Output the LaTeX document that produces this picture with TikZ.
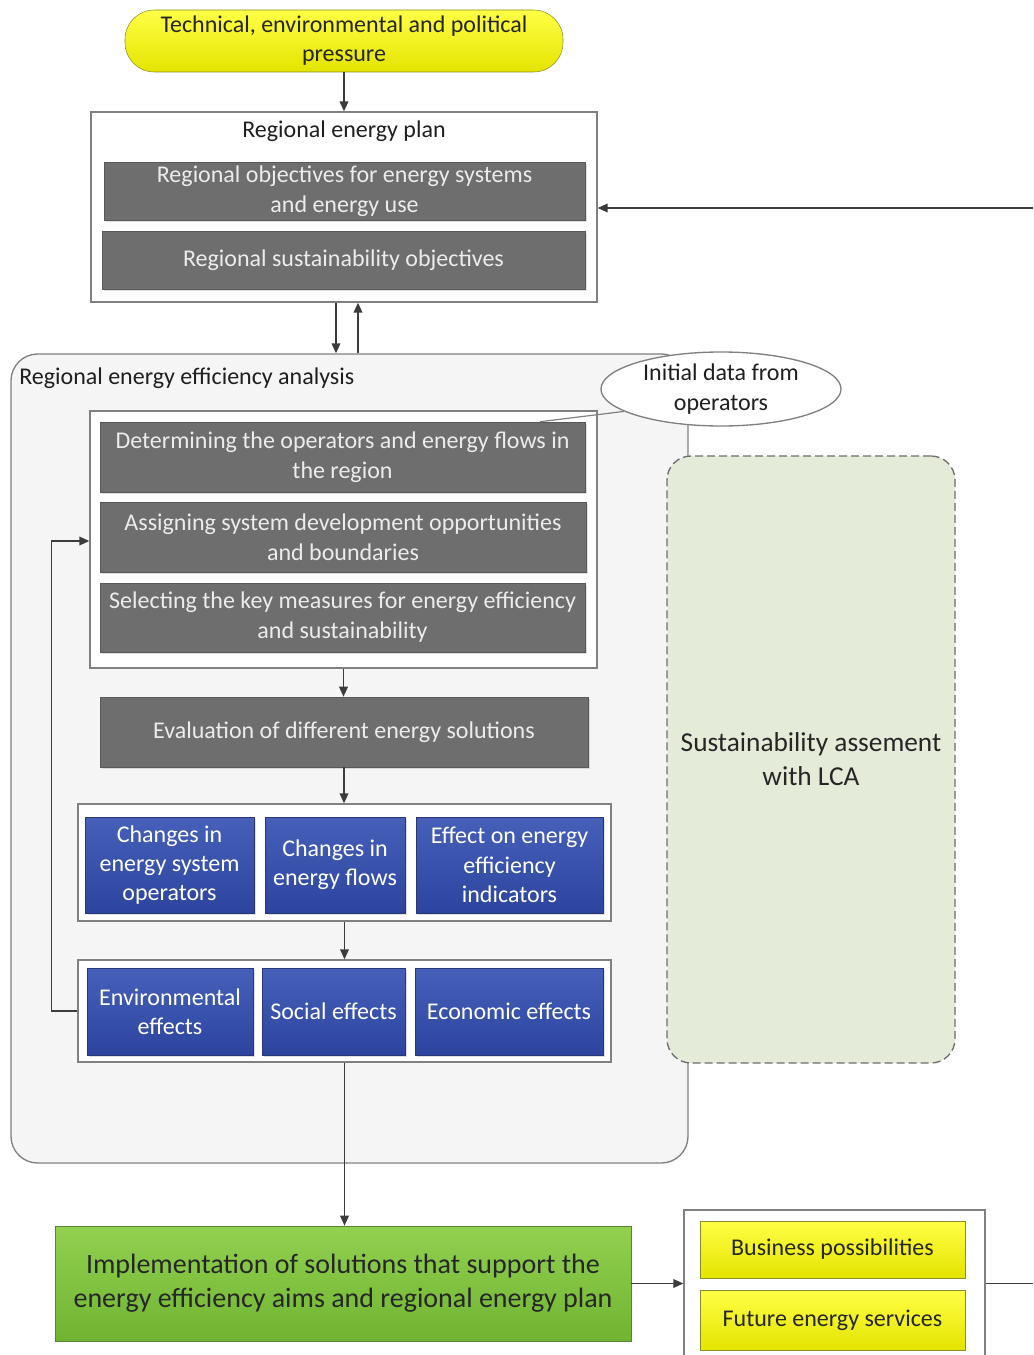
\documentclass[tikz,border=0pt]{standalone}
\usepackage{fontspec}
\setmainfont{Carlito}
\usetikzlibrary{arrows.meta,shapes.geometric,shadows}
\newcommand\fsz[2]{\fontsize{#1}{#2}\selectfont}
% box from its corners (pixel grid): style, name, x1, y1, x2, y2, text
\newcommand\bx[7]{\node[#1, minimum width={(#5-#3)*0.75pt}, minimum height={(#6-#4)*0.75pt}]
  (#2) at ({(#3+#5)/2},{(#4+#6)/2}) {#7};}

\definecolor{linegray}{RGB}{128,128,128}
\definecolor{dashgray}{RGB}{110,110,110}
\definecolor{arrowgray}{RGB}{60,60,60}
\definecolor{boxgray}{RGB}{110,110,110}
\definecolor{boxgrayedge}{RGB}{88,88,88}
\definecolor{graytext}{RGB}{236,236,236}
\definecolor{bluetop}{RGB}{70,96,186}
\definecolor{bluebot}{RGB}{44,68,158}
\definecolor{blueedge}{RGB}{40,55,120}
\definecolor{yeltop}{RGB}{255,255,70}
\definecolor{yelbot}{RGB}{228,228,0}
\definecolor{yeledge}{RGB}{140,140,40}
\definecolor{grntop}{RGB}{146,208,80}
\definecolor{grnbot}{RGB}{112,180,50}
\definecolor{grnedge}{RGB}{90,130,50}
\definecolor{lcafill}{RGB}{228,235,216}
\definecolor{contfill}{RGB}{245,245,245}

\tikzset{
  grp/.style={draw=linegray, fill=white, line width=1pt, inner sep=0pt},
  graybox/.style={draw=boxgrayedge, fill=boxgray, text=graytext, inner sep=0pt,
    align=center, font=\fsz{18}{22.5},
    drop shadow={shadow xshift=1.2pt, shadow yshift=-1.2pt, opacity=0.25}},
  bluebox/.style={draw=blueedge, top color=bluetop, bottom color=bluebot, text=white,
    inner sep=0pt, align=center, font=\fsz{18}{22},
    drop shadow={shadow xshift=1.2pt, shadow yshift=-1.2pt, opacity=0.25}},
  yelbox/.style={draw=yeledge, top color=yeltop, bottom color=yelbot, text=black!85,
    inner sep=0pt, align=center, font=\fsz{18}{21.75}},
  plaintext/.style={font=\fsz{18}{22.5}, text=black!88, inner sep=0pt},
  arr/.style={draw=arrowgray, line width=1.1pt, -{Triangle[length=7.5pt,width=6.5pt]}},
  plainline/.style={draw=arrowgray, line width=1.1pt},
  thinline/.style={draw=linegray, line width=0.9pt},
}

\begin{document}
\begin{tikzpicture}[x=0.75pt,y=-0.75pt]
\useasboundingbox (0,0) rectangle (1033,1355);

% external pressure
\bx{yelbox, rounded corners=22pt}{press}{125}{10}{563}{72}
  {Technical, environmental and political\\pressure}

% regional energy plan
\bx{grp}{plan}{91}{112}{597}{302}{}
\node[plaintext] (plantitle) at (344,131) {Regional energy plan};
\bx{graybox}{obj1}{104}{162}{585}{220}{Regional objectives for energy systems\\and energy use}
\bx{graybox}{obj2}{102}{231}{585}{289}{Regional sustainability objectives}

% analysis container
\bx{draw=linegray, fill=contfill, line width=1pt, rounded corners=20pt, inner sep=0pt}
  {cont}{11}{354}{688}{1163}{}
\node[plaintext, anchor=west] (conttitle) at (19,378) {Regional energy efficiency analysis};

% data input
\node[ellipse, draw=linegray, fill=white, line width=1pt, minimum width=180pt,
  minimum height=55.5pt, inner sep=0pt, align=center, plaintext]
  (ell) at (721,389) {Initial data from\\operators};

% LCA assessment
\bx{draw=dashgray, dash pattern=on 6pt off 3pt, fill=lcafill, line width=1pt,
  rounded corners=18pt, inner sep=0pt, align=center, font=\fsz{20.5}{25.5}, text=black!85}
  {lca}{667}{456}{955}{1063}{Sustainability assement\\with LCA}

% analysis steps
\bx{grp}{g1}{90}{411}{597}{668}{}
\bx{graybox}{det}{100}{422}{585}{492}{Determining the operators and energy flows in\\the region}
\bx{graybox}{asg}{100}{502}{586}{572}{Assigning system development opportunities\\and boundaries}
\bx{graybox}{sel}{100}{583}{585}{652}{Selecting the key measures for energy efficiency\\and sustainability}

\bx{graybox}{eval}{100}{697}{588}{767}{Evaluation of different energy solutions}

\bx{grp}{g2}{78}{804}{611}{921}{}
\bx{bluebox}{b1}{85}{817}{254}{913}{Changes in\\energy system\\operators}
\bx{bluebox}{b2}{265}{817}{405}{913}{Changes in\\energy flows}
\bx{bluebox}{b3}{416}{817}{603}{913}{Effect on energy\\efficiency\\indicators}

\bx{grp}{g3}{78}{960}{611}{1062}{}
\bx{bluebox}{c1}{87}{968}{253}{1055}{Environmental\\effects}
\bx{bluebox}{c2}{262}{968}{405}{1055}{Social effects}
\bx{bluebox}{c3}{415}{968}{603}{1055}{Economic effects}

% implementation and outcomes
\bx{draw=grnedge, top color=grntop, bottom color=grnbot, inner sep=0pt, align=center,
  font=\fsz{21}{25.5}, text=black!85}
  {impl}{55}{1226}{631}{1341}
  {Implementation of solutions that support the\\energy efficiency aims and regional energy plan}
\bx{grp}{out}{684}{1210}{985}{1375}{}
\bx{yelbox}{bus}{700}{1221}{965}{1278}{Business possibilities}
\bx{yelbox}{fut}{700}{1290}{965}{1350}{Future energy services}

\coordinate (fbin) at (1033,208);
\coordinate (fbout) at (1033,1283);

% connectors
\draw[arr] (press) -- (plan);
\draw[arr] ([xshift=-6pt]plan.south) -- ([xshift=-6pt]plan.south |- cont.north);
\draw[arr] ([xshift=10.5pt]plan.south |- cont.north) -- ([xshift=10.5pt]plan.south);
\draw[arr] (fbin) -- (fbin -| plan.east);
\draw[thinline] (ell.193) -- ([xshift=-34pt]det.north east);
\draw[arr] (g1.south) -- (g1.south |- eval.north);
\draw[arr] (eval.south) -- (eval.south |- g2.north);
\draw[arr] (g2.south) -- (g2.south |- g3.north);
\draw[arr] (g3.west) -- ++(-19.5pt,0) |- ([yshift=-3pt]g1.west |- asg.center);
\draw[arr] (g3.south) -- (g3.south |- impl.north);
\draw[arr] (impl.east) -- (impl.east -| out.west);
\draw[plainline] (impl.east -| out.east) -- (impl.east -| fbout);
\end{tikzpicture}
\end{document}
